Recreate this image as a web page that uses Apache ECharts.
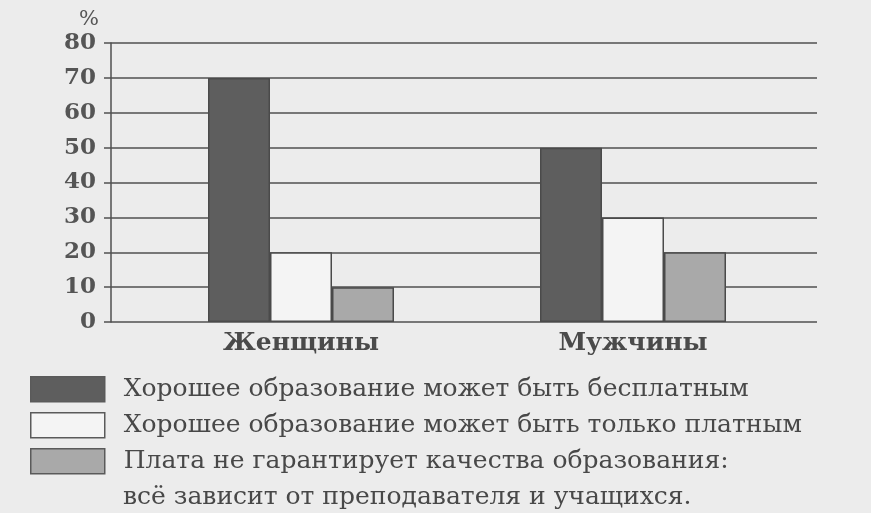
<!DOCTYPE html>
<html>
<head>
<meta charset="utf-8">
<script src="https://cdn.jsdelivr.net/npm/echarts@6/dist/echarts.min.js"></script>
<style>
  html, body { margin: 0; padding: 0; background: #ececec; }
  #chart { width: 871px; height: 513px; }
</style>
</head>
<body>
<div id="chart"></div>
<script>
const categories = ['Женщины', 'Мужчины']
const seriesNames = [
  'Хорошее образование может быть бесплатным',
  'Хорошее образование может быть только платным',
  'Плата не гарантирует качества образования:\nвсё зависит от преподавателя и учащихся.'
]
const freeValues = [70, 50]
const paidValues = [20, 30]
const teacherValues = [10, 20]
const yTicks = [0, 10, 20, 30, 40, 50, 60, 70, 80]

const barColors = ['#5e5e5e', '#f4f4f4', '#a9a9a9']
const serif = '"DejaVu Serif", serif'
const legendFont = 25

const chart = echarts.init(document.getElementById('chart'))

// one legend per entry so each box sits exactly where the printed one does
const makeLegend = (name, top) => ({
  data: [name],
  left: 30,
  top: top,
  orient: 'vertical',
  icon: 'rect',
  itemWidth: 74,
  itemHeight: 25,
  padding: 0,
  itemStyle: { borderColor: '#5a5a5a', borderWidth: 1.5 },
  // long entry: only its first line goes next to the box, the rest is below
  formatter: n => n.split('\n')[0],
  textStyle: {
    color: '#484848',
    fontFamily: serif,
    fontSize: legendFont,
    padding: [0, 0, 0, 14]
  }
})

const option = {
  backgroundColor: '#ececec',
  animation: false,
  grid: [
    { left: 111, right: 54, top: 43, bottom: 191 },
    { left: 135, right: 72, top: 43, bottom: 191 }
  ],
  xAxis: [
    { gridIndex: 0, type: 'category', data: categories, show: false },
    {
      gridIndex: 1,
      type: 'category',
      data: categories,
      axisLine: { show: false },
      axisTick: { show: false },
      axisLabel: {
        color: '#4a4a4a',
        fontFamily: serif,
        fontWeight: 'bold',
        fontSize: 25,
        margin: 9
      }
    }
  ],
  yAxis: [
    {
      gridIndex: 0,
      type: 'value',
      min: yTicks[0],
      max: yTicks[yTicks.length - 1],
      interval: 10,
      name: '%',
      nameLocation: 'end',
      nameGap: 13,
      nameTextStyle: {
        color: '#555',
        fontFamily: serif,
        fontSize: 21,
        align: 'right',
        padding: [0, 12, 0, 0]
      },
      axisLine: { show: true, lineStyle: { color: '#505050', width: 1.5 } },
      axisTick: { show: true, length: 7, lineStyle: { color: '#505050', width: 1.5 } },
      axisLabel: {
        color: '#555',
        fontFamily: serif,
        fontWeight: 'bold',
        fontSize: 23,
        margin: 15
      },
      splitLine: { show: true, lineStyle: { color: '#505050', width: 1.5 } }
    },
    { gridIndex: 1, type: 'value', min: 0, max: 80, show: false }
  ],
  legend: [
    makeLegend(seriesNames[0], 376),
    makeLegend(seriesNames[1], 412),
    makeLegend(seriesNames[2], 448)
  ],
  graphic: [{
    type: 'text',
    left: 123,
    top: 485,
    style: {
      text: seriesNames[2].split('\n')[1],
      fill: '#484848',
      font: legendFont + 'px ' + serif
    }
  }],
  series: [
    { name: seriesNames[0], data: freeValues, color: barColors[0] },
    { name: seriesNames[1], data: paidValues, color: barColors[1] },
    { name: seriesNames[2], data: teacherValues, color: barColors[2] }
  ].map(s => ({
    name: s.name,
    type: 'bar',
    xAxisIndex: 1,
    yAxisIndex: 1,
    data: s.data,
    barWidth: 62,
    barGap: '0%',
    itemStyle: { color: s.color, borderColor: '#4a4a4a', borderWidth: 1.5 }
  }))
}

chart.setOption(option)
</script>
</body>
</html>
